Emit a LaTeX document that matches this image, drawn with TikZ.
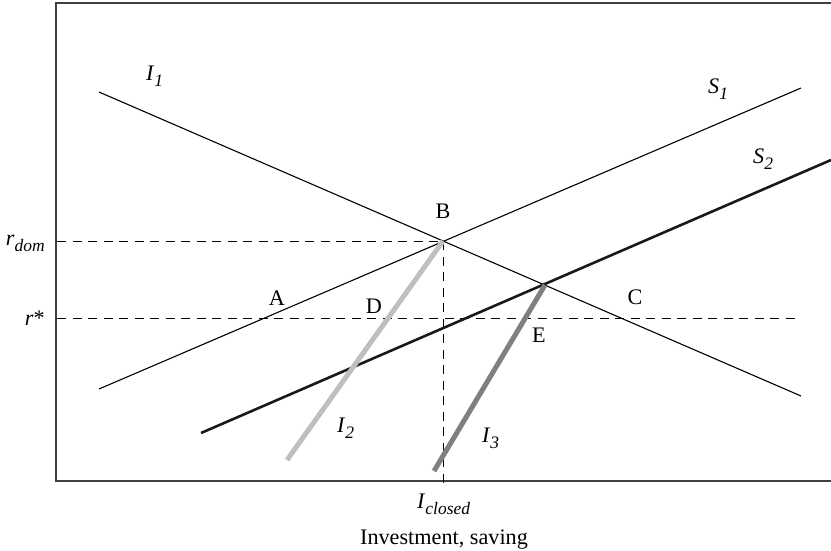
\documentclass[tikz,border=0pt]{standalone}
\usepackage{fontspec}
\setmainfont{Liberation Serif}
\newcommand{\subtxt}[1]{\raisebox{-6.5pt}{\fontsize{17.5}{20}\selectfont\itshape #1}}
\begin{document}
\begin{tikzpicture}[x=1pt,y=-1pt,
  thinline/.style={line width=1.1pt,black},
  dashline/.style={line width=1pt,black,dash pattern=on 9pt off 6.5pt},
  lbl/.style={inner sep=0pt,font=\fontsize{22.2}{25}\selectfont},
  frame/.style={line width=1.6pt,black!75}]
\useasboundingbox (0,0) rectangle (831,550);
% frame
\draw[frame] (831,3) -- (56,3) -- (56,481) -- (831,481);
% points
\coordinate (B) at (443,241);
\coordinate (E) at (545,285);
\coordinate (I1s) at (99,92);
\coordinate (I1e) at (801,396);
\coordinate (S1s) at (99,389);
\coordinate (S1e) at (801,88);
\coordinate (S2s) at (201,433);
\coordinate (S2e) at (831,160);
\coordinate (I2e) at (287,460);
\coordinate (I3e) at (434,471);
\coordinate (rdomL) at (57,241);
\coordinate (rsL) at (57,318);
\coordinate (rsR) at (800,318);
\coordinate (Vb) at (443,484);
% dashed
\draw[dashline] (rdomL) -- (B);
\draw[dashline] (rsL) -- (rsR);
\draw[dashline] (B) -- (Vb);
% curves
\draw[thinline] (I1s) -- (I1e);
\draw[thinline] (S1s) -- (S1e);
\draw[line width=2.6pt,black!90] (S2s) -- (S2e);
\draw[line width=5pt,black!25] (B) -- (I2e);
\draw[line width=5pt,black!50] (E) -- (I3e);
% labels
\node[lbl,anchor=base west] (lI1) at (146,80) {\textit{I}\subtxt{1}};
\node[lbl,anchor=base west] (lS1) at (708,93) {\textit{S}\subtxt{1}};
\node[lbl,anchor=base west] (lS2) at (753,163) {\textit{S}\subtxt{2}};
\node[lbl,anchor=base east] (lrdom) at (45,245) {\textit{r}\subtxt{dom}};
\node[lbl,anchor=base east] (lrs) at (45,325) {\textit{r}*};
\node[lbl,anchor=base] (lA) at (277,305) {A};
\node[lbl,anchor=base] (lB) at (443,218) {B};
\node[lbl,anchor=base] (lD) at (374,313) {D};
\node[lbl,anchor=base] (lC) at (635,304) {C};
\node[lbl,anchor=base] (lE) at (539,342) {E};
\node[lbl,anchor=base west] (lI2) at (337,432) {\textit{I}\subtxt{2}};
\node[lbl,anchor=base west] (lI3) at (482,442) {\textit{I}\subtxt{3}};
\node[lbl,anchor=base west] (lIc) at (417,508) {\textit{I}\subtxt{closed}};
\node[lbl,anchor=base] (lX) at (444,544) {Investment, saving};
\end{tikzpicture}
\end{document}
